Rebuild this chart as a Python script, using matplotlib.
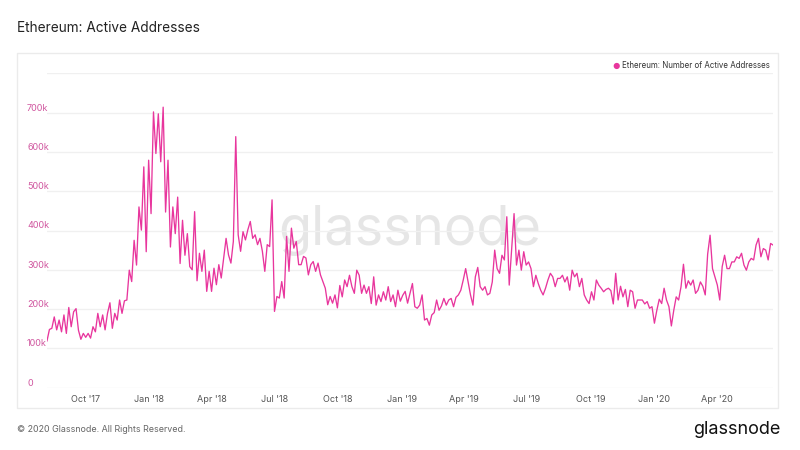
import matplotlib
matplotlib.use("Agg")
import matplotlib.pyplot as plt
import matplotlib.dates as mdates
import pandas as pd
from matplotlib.patches import Rectangle

plt.rcParams["font.family"] = ["Inter", "DejaVu Sans"]

# Active addresses (thousands), sampled every 3.5 days from 2017-08-06
start_date = "2017-08-06"
active_k = [
    119, 148, 151, 180, 147, 172, 142, 185, 138, 204,
    155, 193, 201, 146, 123, 138, 128, 138, 126, 155,
    142, 189, 155, 185, 147, 189, 216, 151, 189, 172,
    223, 189, 221, 223, 299, 270, 375, 312, 460, 401,
    562, 346, 579, 443, 702, 596, 697, 575, 714, 447,
    579, 358, 460, 392, 485, 316, 426, 337, 392, 308,
    300, 448, 272, 342, 296, 350, 245, 296, 245, 304,
    262, 313, 279, 330, 380, 338, 317, 372, 639, 389,
    347, 397, 376, 402, 423, 380, 389, 364, 380, 347,
    296, 364, 359, 478, 194, 232, 228, 270, 228, 385,
    296, 406, 355, 372, 313, 313, 334, 330, 287, 313,
    321, 296, 317, 287, 270, 253, 211, 232, 215, 236,
    203, 260, 231, 274, 257, 286, 257, 240, 299, 286,
    240, 261, 240, 257, 214, 282, 210, 236, 219, 244,
    223, 257, 219, 236, 206, 248, 220, 235, 245, 215,
    240, 265, 206, 202, 210, 236, 172, 176, 159, 185,
    191, 223, 197, 208, 227, 210, 223, 227, 206, 230,
    236, 248, 274, 303, 269, 236, 210, 282, 306, 257,
    248, 257, 236, 240, 269, 350, 303, 291, 337, 325,
    435, 261, 354, 443, 312, 350, 299, 346, 312, 320,
    303, 257, 286, 265, 248, 236, 253, 274, 291, 282,
    257, 278, 278, 286, 269, 282, 248, 299, 282, 291,
    257, 278, 236, 223, 214, 244, 223, 274, 261, 253,
    244, 250, 253, 247, 213, 291, 223, 258, 231, 250,
    206, 248, 244, 202, 223, 223, 223, 213, 219, 202,
    206, 164, 197, 225, 214, 253, 223, 206, 157, 197,
    231, 223, 257, 314, 253, 272, 261, 274, 240, 248,
    269, 258, 236, 340, 388, 303, 282, 261, 223, 308,
    337, 303, 303, 320, 320, 333, 329, 342, 312, 299,
    320, 329, 325, 363, 380, 333, 354, 350, 325, 367,
    363,
]
y_ticks_k = [0, 100, 200, 300, 400, 500, 600, 700, 800]
y_labels = ["0", "100k", "200k", "300k", "400k", "500k", "600k", "700k", ""]
series_label = "Ethereum: Number of Active Addresses"

LINE = "#e8369d"
W, H = 800, 450

dates = pd.date_range(start_date, periods=len(active_k), freq="84h")
values = [v * 1000 for v in active_k]

fig = plt.figure(figsize=(W / 100, H / 100), dpi=100)
fig.patch.set_facecolor("white")

# panel border
fig.patches.append(Rectangle((17 / W, 1 - 408 / H), (778 - 17) / W, (408 - 53) / H,
                             transform=fig.transFigure, fill=False,
                             edgecolor="#ebebeb", linewidth=1.0))

ax = fig.add_axes([47 / W, 1 - 387.6 / H, 726 / W, (387.6 - 73.4) / H])
ax.plot(dates, values, color=LINE, linewidth=0.95, zorder=3)

ax.set_xlim(dates[0], dates[-1])
ax.set_ylim(0, 800000)
ax.set_yticks([t * 1000 for t in y_ticks_k])
ax.set_yticklabels(y_labels)
ax.tick_params(axis="y", length=0, pad=14.4, labelsize=6.5, labelcolor="#d0569f")
for lbl in ax.get_yticklabels():
    lbl.set_horizontalalignment("left")
    lbl.set_verticalalignment("bottom")

ax.xaxis.set_major_locator(mdates.MonthLocator(bymonth=[1, 4, 7, 10]))
ax.xaxis.set_major_formatter(mdates.DateFormatter("%b '%y"))
ax.tick_params(axis="x", length=0, pad=5, labelsize=6.5, labelcolor="#555555")

ax.grid(axis="y", color="#f0f0f0", linewidth=1.0, zorder=0)
for s in ax.spines.values():
    s.set_visible(False)
ax.set_facecolor("none")

# watermark
ax.text(0.5, 0.5, "glassnode", transform=ax.transAxes, ha="center", va="center",
        fontsize=39, color="#dcdcdc", alpha=0.7, zorder=1)

# legend
fig.text(616 / W, 1 - 66 / H, "\u25cf", color=LINE, fontsize=6, ha="center", va="center")
fig.text(622 / W, 1 - 66 / H, series_label, color="#333333", fontsize=5.7,
         ha="left", va="center")

fig.text(17 / W, 1 - 28 / H, "Ethereum: Active Addresses", fontsize=9.8,
         color="#222222", ha="left", va="center")
fig.text(17 / W, 1 - 430 / H, "\u00a9 2020 Glassnode. All Rights Reserved.",
         fontsize=6.4, color="#666666", ha="left", va="center")
fig.text(781 / W, 1 - 430 / H, "glassnode", fontsize=13, color="#111111",
         ha="right", va="center")

fig.savefig("out.png", dpi=100, facecolor="white")
